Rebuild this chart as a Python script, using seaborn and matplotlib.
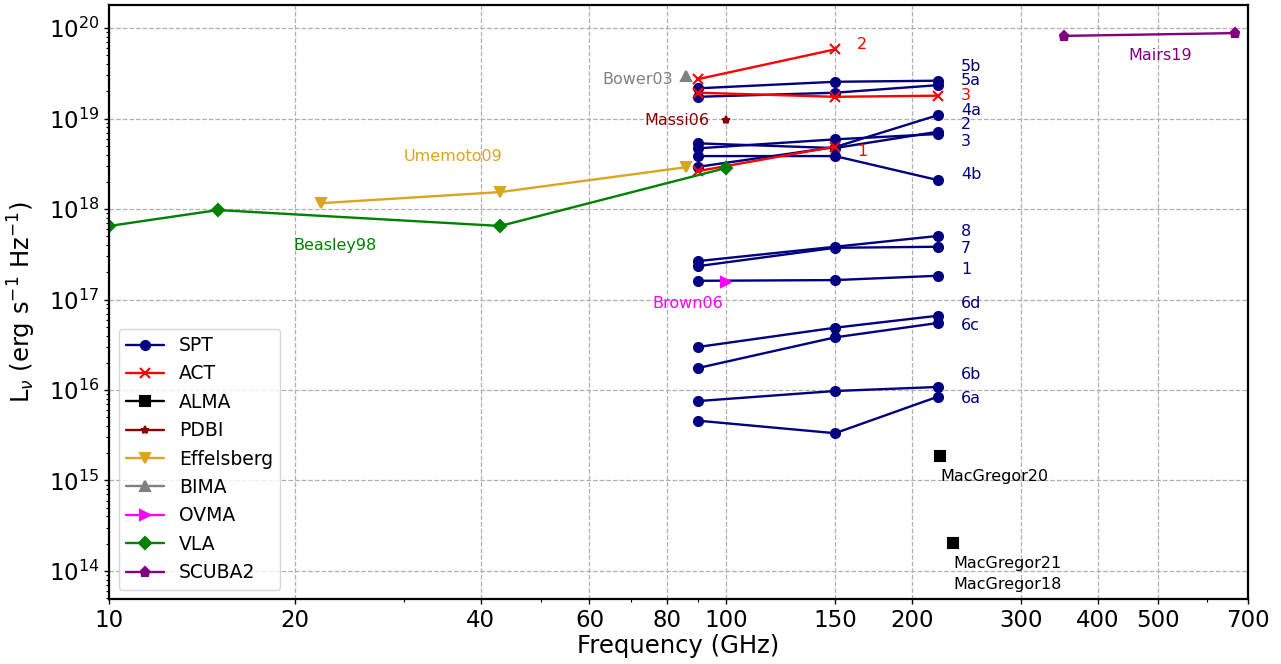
import numpy as np
import pandas as pd
import matplotlib
matplotlib.use("Agg")
import matplotlib.pyplot as plt
import matplotlib.ticker as mticker
import seaborn as sns

# ---------------- data ----------------
spt_freq = [90, 150, 220]
spt_names = ["1", "2", "3", "4a", "4b", "5a", "5b", "6a", "6b", "6c", "6d", "7", "8"]
spt_1 = [1.61e17, 1.64e17, 1.83e17]
spt_2 = [5.32e18, 4.72e18, 7.15e18]
spt_3 = [4.69e18, 5.89e18, 6.75e18]
spt_4a = [2.93e18, 4.84e18, 1.09e19]
spt_4b = [3.85e18, 3.85e18, 2.09e18]
spt_5a = [1.74e19, 1.93e19, 2.34e19]
spt_5b = [2.16e19, 2.55e19, 2.62e19]
spt_6a = [4.58e15, 3.33e15, 8.43e15]
spt_6b = [7.55e15, 9.75e15, 1.08e16]
spt_6c = [1.75e16, 3.82e16, 5.50e16]
spt_6d = [2.99e16, 4.88e16, 6.62e16]
spt_7 = [2.34e17, 3.73e17, 3.83e17]
spt_8 = [2.66e17, 3.83e17, 5.04e17]
spt_vals = [spt_1, spt_2, spt_3, spt_4a, spt_4b, spt_5a, spt_5b,
            spt_6a, spt_6b, spt_6c, spt_6d, spt_7, spt_8]

act_names = ["1", "2", "3"]
act_freq_1 = [90, 150]
act_1 = [2.63e18, 4.9e18]
act_freq_2 = [90, 150]
act_2 = [2.73e19, 5.82e19]
act_freq_3 = [90, 150, 220]
act_3 = [1.93e19, 1.74e19, 1.79e19]

alma_names = ["MacGregor20", "MacGregor21"]
alma_freq = [222, 233]
alma_vals = [1.87e15, 2.06e14]

pdbi_freq = [100]
pdbi_vals = [9.6e18]

effelsberg_freq = [22, 43, 86]
effelsberg_vals = [1.16e18, 1.54e18, 2.9e18]

bima_freq = [86]
bima_vals = [2.95e19]

ovma_freq = [100]
ovma_vals = [1.57e17]

vla_freq = [10, 15, 43, 100]
vla_vals = [6.5e17, 9.75e17, 6.5e17, 2.85e18]

scuba2_freq = [353, 666]
scuba2_vals = [8.2e19, 8.8e19]

x_ticks = [10, 20, 40, 60, 80, 100, 150, 200, 300, 400, 500, 700]

# ---------------- long table ----------------
rows = []
for name, vals in zip(spt_names, spt_vals):
    for f, v in zip(spt_freq, vals):
        rows.append(("SPT", "SPT " + name, f, v))
for name, fr, vals in zip(act_names, [act_freq_1, act_freq_2, act_freq_3], [act_1, act_2, act_3]):
    for f, v in zip(fr, vals):
        rows.append(("ACT", "ACT " + name, f, v))
for name, f, v in zip(alma_names, alma_freq, alma_vals):
    rows.append(("ALMA", name, f, v))
for f, v in zip(pdbi_freq, pdbi_vals):
    rows.append(("PDBI", "Massi06", f, v))
for f, v in zip(effelsberg_freq, effelsberg_vals):
    rows.append(("Effelsberg", "Umemoto09", f, v))
for f, v in zip(bima_freq, bima_vals):
    rows.append(("BIMA", "Bower03", f, v))
for f, v in zip(ovma_freq, ovma_vals):
    rows.append(("OVMA", "Brown06", f, v))
for f, v in zip(vla_freq, vla_vals):
    rows.append(("VLA", "Beasley98", f, v))
for f, v in zip(scuba2_freq, scuba2_vals):
    rows.append(("SCUBA2", "Mairs19", f, v))
df = pd.DataFrame(rows, columns=["instrument", "source", "freq", "L"])

instruments = ["SPT", "ACT", "ALMA", "PDBI", "Effelsberg", "BIMA", "OVMA", "VLA", "SCUBA2"]
colors = {"SPT": "#000080", "ACT": "red", "ALMA": "black", "PDBI": "#8B0000",
          "Effelsberg": "goldenrod", "BIMA": "gray", "OVMA": "magenta",
          "VLA": "green", "SCUBA2": "purple"}
markers = {"SPT": "o", "ACT": "x", "ALMA": "s", "PDBI": "*", "Effelsberg": "v",
           "BIMA": "^", "OVMA": ">", "VLA": "D", "SCUBA2": "p"}
msizes = {"SPT": 6.5, "ACT": 7, "ALMA": 7, "PDBI": 6, "Effelsberg": 7,
          "BIMA": 7, "OVMA": 7, "VLA": 6.5, "SCUBA2": 6.5}

# ---------------- plot ----------------
sns.set_style("ticks")
plt.rcParams["font.family"] = ["DejaVu Sans"]
plt.rcParams.update({"text.color": "black", "axes.labelcolor": "black",
                     "xtick.color": "black", "ytick.color": "black",
                     "axes.edgecolor": "black"})

fig = plt.figure(figsize=(12.81, 6.64), dpi=100)
ax = fig.add_axes([0.0853, 0.0979, 0.9742 - 0.0853, 0.9925 - 0.0979])

for inst in instruments:
    sub = df[df["instrument"] == inst]
    first = True
    for src, g in sub.groupby("source", sort=False):
        sns.lineplot(data=g, x="freq", y="L", ax=ax, color=colors[inst],
                     marker=markers[inst], markersize=msizes[inst],
                     markeredgecolor=colors[inst], markerfacecolor=colors[inst],
                     markeredgewidth=1.5, linewidth=1.7, sort=False,
                     estimator=None, legend=False,
                     label=inst if first else "_nolegend_")
        first = False

ax.set_xscale("log")
ax.set_yscale("log")
ax.set_xlim(10, 700)
ax.set_ylim(4.9e13, 1.8e20)
ax.xaxis.set_major_locator(mticker.FixedLocator(x_ticks))
ax.xaxis.set_major_formatter(mticker.FixedFormatter([str(t) for t in x_ticks]))
ax.xaxis.set_minor_formatter(mticker.NullFormatter())
ax.yaxis.set_major_locator(mticker.LogLocator(base=10, numticks=20))
ax.yaxis.set_minor_locator(mticker.LogLocator(base=10, subs=np.arange(2, 10), numticks=100))
ax.yaxis.set_minor_formatter(mticker.NullFormatter())

ax.grid(True, which="major", linestyle="--", color="#b0b0b0", linewidth=0.9)
for s in ax.spines.values():
    s.set_visible(True)
    s.set_linewidth(1.6)
    s.set_color("black")
ax.tick_params(axis="both", which="major", labelsize=16.5, length=3.5, width=1.0,
               color="black", labelcolor="black")
ax.tick_params(axis="both", which="minor", length=2, width=0.8, color="black")

ax.set_xlabel("Frequency (GHz)", fontsize=17.5, labelpad=2, color="black")
ax.set_ylabel(r"L$_\nu$ (erg s$^{-1}$ Hz$^{-1}$)", fontsize=17.5, labelpad=8, color="black")

# ---------------- annotations ----------------
fs = 11.5
spt_lab = {"5b": 3.8e19, "5a": 2.66e19, "4a": 1.24e19, "2": 8.7e18, "3": 5.6e18,
           "4b": 2.38e18, "8": 5.7e17, "7": 3.7e17, "1": 2.12e17, "6d": 9.1e16,
           "6c": 5.1e16, "6b": 1.47e16, "6a": 7.96e15}
for k, y in spt_lab.items():
    ax.text(240, y, k, color="#000080", fontsize=fs, ha="left", va="center")
ax.text(240, 1.82e19, "3", color="red", fontsize=fs, ha="left", va="center")
ax.text(163, 6.65e19, "2", color="red", fontsize=fs, ha="left", va="center")
ax.text(163, 4.27e18, "1", color="red", fontsize=fs, ha="left", va="center")

ax.text(82, 2.73e19, "Bower03", color="gray", fontsize=fs, ha="right", va="center")
ax.text(94, 9.6e18, "Massi06", color="#8B0000", fontsize=fs, ha="right", va="center")
ax.text(36, 3.76e18, "Umemoto09", color="goldenrod", fontsize=fs, ha="center", va="center")
ax.text(19.9, 4.0e17, "Beasley98", color="green", fontsize=fs, ha="left", va="center")
ax.text(86.6, 9.1e16, "Brown06", color="magenta", fontsize=fs, ha="center", va="center")
ax.text(504, 5.04e19, "Mairs19", color="purple", fontsize=fs, ha="center", va="center")
ax.text(222, 1.12e15, "MacGregor20", color="black", fontsize=fs, ha="left", va="center")
ax.text(233, 1.22e14, "MacGregor21", color="black", fontsize=fs, ha="left", va="center")
ax.text(233, 7.0e13, "MacGregor18", color="black", fontsize=fs, ha="left", va="center")

h, l = ax.get_legend_handles_labels()
hd = dict(zip(l, h))
leg = ax.legend([hd[i] for i in instruments], instruments, loc="lower left",
                fontsize=13.5, frameon=True, handlelength=2.0)
for t in leg.get_texts():
    t.set_color("black")

fig.savefig("out.png", dpi=100)
